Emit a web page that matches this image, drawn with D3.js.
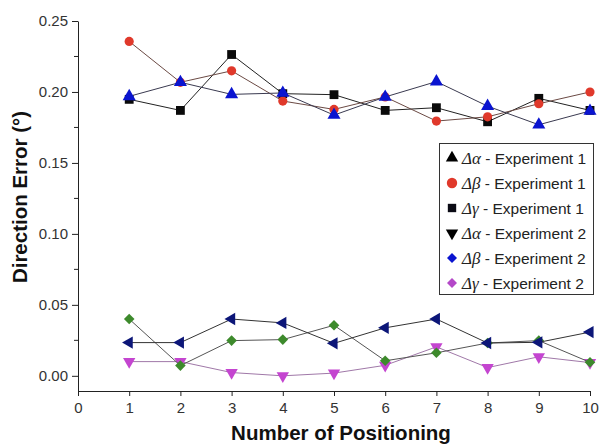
<!DOCTYPE html>
<html>
<head>
<meta charset="utf-8">
<script src="https://cdn.jsdelivr.net/npm/d3@7"></script>
<style>
  body { margin: 0; background: #fff; }
  svg { font-family: "Liberation Sans", Arial, sans-serif; }
  .tick text { font-size: 15px; fill: #333; }
  .axis path, .axis line { stroke: #222; }
  .title { font-weight: bold; font-size: 20.5px; fill: #111; }
  .legend { font-size: 15.5px; fill: #222; }
</style>
</head>
<body>
<svg id="chart" width="600" height="444"></svg>
<script>
// positions 1..10
let positions = [1, 2, 3, 4, 5, 6, 7, 8, 9, 10]

// experiment 1 (upper group)
let redCircles   = [0.2356, 0.2068, 0.2149, 0.1936, 0.1877, 0.1965, 0.1795, 0.1825, 0.1917, 0.2000]
let blackSquares = [0.1948, 0.1870, 0.2264, 0.1988, 0.1981, 0.1870, 0.1889, 0.1790, 0.1955, 0.1870]
let blueTriUp    = [0.1969, 0.2068, 0.1983, 0.1993, 0.1837, 0.1965, 0.2073, 0.1900, 0.1769, 0.1866]

// experiment 2 (lower group)
let navyTriLeft  = [0.0234, 0.0234, 0.0400, 0.0373, 0.0229, 0.0338, 0.0400, 0.0231, 0.0236, 0.0308]
let greenDiamond = [0.0400, 0.0072, 0.0248, 0.0255, 0.0356, 0.0106, 0.0162, 0.0231, 0.0248, 0.0095]
let magentaTriDn = [0.0100, 0.0100, 0.0023, 0.0000, 0.0019, 0.0074, 0.0204, 0.0058, 0.0134, 0.0093]

let xTicks = [0, 1, 2, 3, 4, 5, 6, 7, 8, 9, 10]
let yTicks = [0, 0.05, 0.10, 0.15, 0.20, 0.25]

let legendGreek  = ["\u0394\u03b1", "\u0394\u03b2", "\u0394\u03b3", "\u0394\u03b1", "\u0394\u03b2", "\u0394\u03b3"]
let legendSuffix = [" - Experiment 1", " - Experiment 1", " - Experiment 1", " - Experiment 2", " - Experiment 2", " - Experiment 2"]

let svg = d3.select("#chart")

let xScale = d3.scaleLinear().domain([0, 10]).range([78, 590])
let yScale = d3.scaleLinear().domain([-0.0107, 0.25]).range([391, 21])

// axes
let x_axis = d3.axisBottom(xScale).tickValues(xTicks).tickSize(5).tickSizeOuter(0).tickPadding(6)
    .tickFormat(d3.format("d"))
svg.append("g").attr("class", "axis")
    .attr("transform", `translate(0,${391})`)
    .call(x_axis)

let y_axis = d3.axisLeft(yScale).tickValues(yTicks).tickSize(6).tickSizeOuter(0).tickPadding(4)
    .tickFormat(d3.format(".2f"))
svg.append("g").attr("class", "axis")
    .attr("transform", `translate(${78},0)`)
    .call(y_axis)

// minor ticks on y
let minor = [0.025, 0.075, 0.125, 0.175, 0.225]
svg.append("g").selectAll("line").data(minor).enter().append("line")
    .attr("x1", 74).attr("x2", 78)
    .attr("y1", d => yScale(d)).attr("y2", d => yScale(d))
    .attr("stroke", "#222")

// series
let series = [
    {v: blackSquares, fill: "#0a0a0a", line: "#222", shape: d3.symbolSquare, size: 78, rot: 0},
    {v: redCircles, fill: "#e0392b", line: "#6b4a44", shape: d3.symbolCircle, size: 66, rot: 0},
    {v: blueTriUp, fill: "#0a14d0", line: "#3a3a50", shape: d3.symbolTriangle, size: 74, rot: 0},
    {v: magentaTriDn, fill: "#c445d0", line: "#a078a8", shape: d3.symbolTriangle, size: 66, rot: 180},
    {v: greenDiamond, fill: "#3d8a2c", line: "#555", shape: d3.symbolSquare, size: 56, rot: 45},
    {v: navyTriLeft, fill: "#0c1678", line: "#333", shape: d3.symbolTriangle, size: 66, rot: -90}
]

let line = d3.line().x(d => xScale(d.x)).y(d => yScale(d.y))

series.forEach(function (s) {
    let pts = positions.map((p, i) => ({x: p, y: s.v[i]}))
    svg.append("path").datum(pts)
        .attr("d", line)
        .attr("fill", "none")
        .attr("stroke", s.line)
        .attr("stroke-width", 1)
    svg.append("g").selectAll("path").data(pts).enter().append("path")
        .attr("d", d3.symbol().type(s.shape).size(s.size))
        .attr("transform", d => `translate(${xScale(d.x)},${yScale(d.y)}) rotate(${s.rot})`)
        .attr("fill", s.fill)
})

// labels
svg.append("text").attr("class", "title")
    .attr("x", 341).attr("y", 440)
    .attr("text-anchor", "middle")
    .text("Number of Positioning")

svg.append("text").attr("class", "title")
    .attr("transform", `translate(${27},${197}) rotate(-90)`)
    .attr("text-anchor", "middle")
    .text("Direction Error (\u00b0)")

// legend
let legendSyms = [
    {shape: d3.symbolTriangle, size: 66, rot: 0, fill: "#000"},
    {shape: d3.symbolCircle, size: 85, rot: 0, fill: "#e0392b"},
    {shape: d3.symbolSquare, size: 70, rot: 0, fill: "#0a0a14"},
    {shape: d3.symbolTriangle, size: 66, rot: 180, fill: "#000"},
    {shape: d3.symbolSquare, size: 50, rot: 45, fill: "#0a14d0"},
    {shape: d3.symbolSquare, size: 50, rot: 45, fill: "#b448c8"}
]

svg.append("rect")
    .attr("x", 439.5).attr("y", 143.5)
    .attr("width", 154).attr("height", 151)
    .attr("fill", "#fff").attr("stroke", "#333")

legendGreek.forEach(function (g, i) {
    let lgnd = svg.append("g").attr("transform", `translate(${452},${158 + i * 25})`)
    let s = legendSyms[i]
    lgnd.append("path")
        .attr("d", d3.symbol().type(s.shape).size(s.size))
        .attr("transform", `rotate(${s.rot})`)
        .attr("fill", s.fill)
    let t = lgnd.append("text").attr("class", "legend").attr("x", 10).attr("y", 5.5)
    t.append("tspan").attr("font-family", "'Liberation Serif', serif")
        .attr("font-style", "italic").attr("font-size", "17px").text(g)
    t.append("tspan").text(legendSuffix[i])
})
</script>
</body>
</html>
